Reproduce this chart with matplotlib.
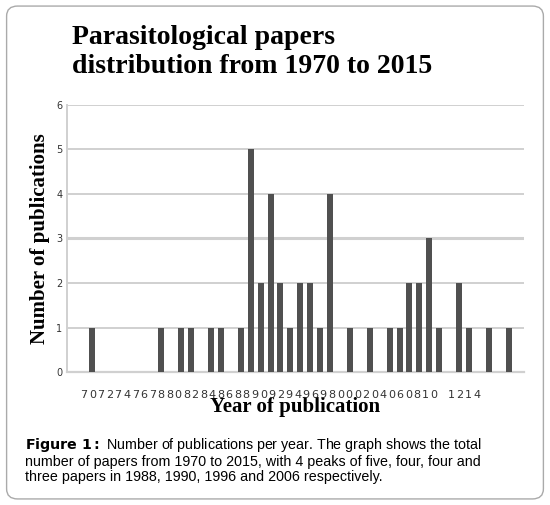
import matplotlib
matplotlib.use("Agg")
import matplotlib.pyplot as plt
from matplotlib.patches import FancyBboxPatch

years = list(range(1970, 2016))
data = {1972:1,1979:1,1981:1,1982:1,1984:1,1985:1,1987:1,1988:5,1989:2,1990:4,1991:2,
        1992:1,1993:2,1994:2,1995:1,1996:4,1998:1,2000:1,2002:1,2003:1,2004:2,2005:2,
        2006:3,2007:1,2009:2,2010:1,2012:1,2014:1}
counts = [data.get(y, 0) for y in years]
tick_text = "707274767880828486889092949698000204060810 1214"

fig = plt.figure(figsize=(5.5, 5.05), dpi=100)
fig.patches.append(FancyBboxPatch((0.012, 0.012), 0.976, 0.976, boxstyle="round,pad=0,rounding_size=0.02",
                                  transform=fig.transFigure, fill=False, ec="#aaaaaa", lw=1))
ax = fig.add_axes([0.122, 0.263, 0.83, 0.53])
ax.bar(years, counts, width=0.6, color="#505050", zorder=3)
ax.set_xlim(1969.5, 2015.5)
ax.set_ylim(0, 6)
ax.set_yticks(range(7))
ax.tick_params(axis="y", length=0, labelsize=7, colors="#333333")
ax.set_xticks([])
for y in range(1, 7):
    ax.axhline(y, color="#d0d0d0", lw=2.2 if y == 3 else 1.4, zorder=1)
for s in ["top", "right"]:
    ax.spines[s].set_visible(False)
ax.spines["left"].set_color("#d0d0d0"); ax.spines["left"].set_linewidth(1.4)
ax.spines["bottom"].set_color("#d0d0d0"); ax.spines["bottom"].set_linewidth(1.6)
# squeezed tick labels, one character per slot
n = len(tick_text)
x0, x1 = 1971.2, 2010.8
for i, ch in enumerate(tick_text):
    ax.text(x0 + (x1 - x0) * i / (n - 1), -0.4, ch, fontsize=8, color="#333333", va="top", ha="center")
ax.set_xlabel("Year of publication", family="Liberation Serif", fontweight="bold", fontsize=15, labelpad=18)
ax.set_ylabel("Number of publications", family="Liberation Serif", fontweight="bold", fontsize=15, labelpad=4)
fig.text(0.13, 0.95, "Parasitological papers\ndistribution from 1970 to 2015", family="Liberation Serif",
         fontweight="bold", fontsize=20, va="top", ha="left", linespacing=1.2)
fig.text(0.045, 0.137, r"$\bf{Figure\ 1:}$ Number of publications per year. The graph shows the total"
         "\nnumber of papers from 1970 to 2015, with 4 peaks of five, four, four and\nthree papers in 1988, 1990, 1996 and 2006 respectively.",
         family="Liberation Sans", fontsize=10.3, va="top", ha="left", linespacing=1.1)
fig.savefig("out.png", dpi=100)
